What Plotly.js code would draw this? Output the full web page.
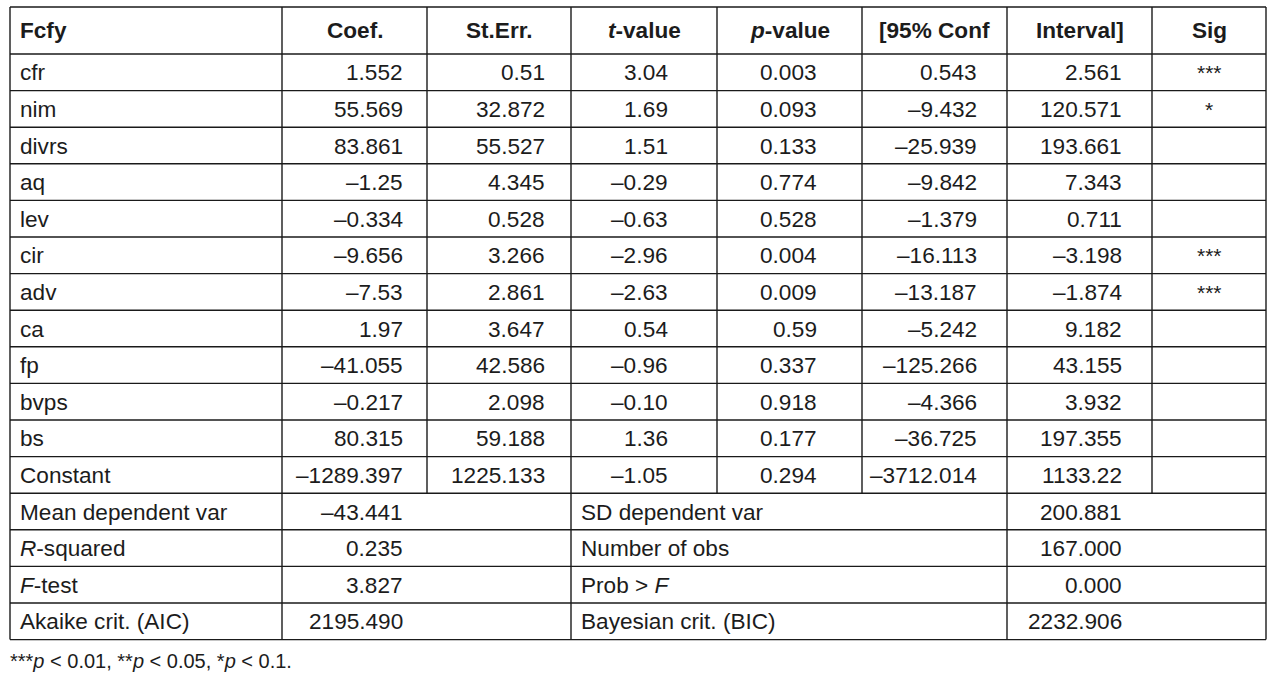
<!DOCTYPE html>
<html>
<head>
<meta charset="utf-8">
<script src="https://cdn.plot.ly/plotly-3.0.1.min.js"></script>
<style>html,body{margin:0;padding:0;background:#fff;}#chart{width:1280px;height:682px;}</style>
</head>
<body>
<div id="chart"></div>
<script>
// ---- data ----
const headers = ['Fcfy', 'Coef.', 'St.Err.', '<i>t</i>-value', '<i>p</i>-value', '[95% Conf', 'Interval]', 'Sig'];
const variables = ['cfr', 'nim', 'divrs', 'aq', 'lev', 'cir', 'adv', 'ca', 'fp', 'bvps', 'bs', 'Constant'];
const coef = [1.552, 55.569, 83.861, -1.25, -0.334, -9.656, -7.53, 1.97, -41.055, -0.217, 80.315, -1289.397];
const stErr = [0.51, 32.872, 55.527, 4.345, 0.528, 3.266, 2.861, 3.647, 42.586, 2.098, 59.188, 1225.133];
const tValue = [3.04, 1.69, 1.51, -0.29, -0.63, -2.96, -2.63, 0.54, -0.96, -0.10, 1.36, -1.05];
const pValue = [0.003, 0.093, 0.133, 0.774, 0.528, 0.004, 0.009, 0.59, 0.337, 0.918, 0.177, 0.294];
const confLow = [0.543, -9.432, -25.939, -9.842, -1.379, -16.113, -13.187, -5.242, -125.266, -4.366, -36.725, -3712.014];
const confHigh = [2.561, 120.571, 193.661, 7.343, 0.711, -3.198, -1.874, 9.182, 43.155, 3.932, 197.355, 1133.22];
const sig = ['***', '*', '', '', '', '***', '***', '', '', '', '', ''];

const statLabelsLeft = ['Mean dependent var', '<i>R</i>-squared', '<i>F</i>-test', 'Akaike crit. (AIC)'];
const statValuesLeft = [-43.441, 0.235, 3.827, 2195.490];
const statLabelsRight = ['SD dependent var', 'Number of obs', 'Prob &gt; <i>F</i>', 'Bayesian crit. (BIC)'];
const statValuesRight = [200.881, 167.000, 0.000, 2232.906];

const footnote = '***<i>p</i> &lt; 0.01, **<i>p</i> &lt; 0.05, *<i>p</i> &lt; 0.1.';

// ---- layout geometry ----
const colX = [10, 282, 427, 571, 717, 862, 1007, 1152, 1266];
const rightPad = [0, 24, 26, 49, 45, 30, 30, 0];
const tableTop = 7, headerBottom = 54, rowH = 36.6;
const nData = variables.length, nStats = statLabelsLeft.length;
const dataBottom = headerBottom + nData * rowH;
const tableBottom = dataBottom + nStats * rowH;

const FONT = '"Liberation Sans", Arial, Helvetica, sans-serif';
const TXT = '#1c1c1c';
const LINE = '#1a1a1a';
const fs = 22.6;

function fmt(v) { return String(v).replace('-', '\u2013'); }
function fmtFixed(v, d) { return v.toFixed(d).replace('-', '\u2013'); }

const shapes = [];
function hline(y, x0, x1) { shapes.push({type: 'line', xref: 'x', yref: 'y', x0: x0, x1: x1, y0: y, y1: y, line: {color: LINE, width: 1.4}}); }
function vline(x, y0, y1) { shapes.push({type: 'line', xref: 'x', yref: 'y', x0: x, x1: x, y0: y0, y1: y1, line: {color: LINE, width: 1.4}}); }

hline(tableTop, colX[0], colX[8]);
hline(headerBottom, colX[0], colX[8]);
for (let i = 1; i <= nData + nStats; i++) hline(headerBottom + i * rowH, colX[0], colX[8]);
vline(colX[0], tableTop, tableBottom);
vline(colX[8], tableTop, tableBottom);
for (let c = 1; c < 8; c++) vline(colX[c], tableTop, dataBottom);
[1, 3, 6].forEach(c => vline(colX[c], dataBottom, tableBottom));

const ann = [];
function txt(text, x, y, anchor, opts) {
  ann.push(Object.assign({text: text, x: x, y: y, xref: 'x', yref: 'y', xanchor: anchor, yanchor: 'middle',
    showarrow: false, borderpad: 0, borderwidth: 0, font: {family: FONT, size: fs, color: TXT}}, opts || {}));
}

const labelPad = 10;

// header
const hy = (tableTop + headerBottom) / 2;
headers.forEach((h, c) => {
  const label = '<b>' + h + '</b>';
  if (c === 0) txt(label, colX[0] + labelPad, hy, 'left');
  else txt(label, (colX[c] + colX[c + 1]) / 2, hy, 'center');
});

// data rows
const cols = [
  coef.map(fmt), stErr.map(fmt), tValue.map(v => fmtFixed(v, 2)), pValue.map(fmt),
  confLow.map(fmt), confHigh.map(fmt)
];
variables.forEach((v, r) => {
  const y = headerBottom + (r + 0.5) * rowH + 0.5;
  txt(v, colX[0] + labelPad, y, 'left');
  cols.forEach((arr, k) => {
    const c = k + 1;
    txt(arr[r], colX[c + 1] - rightPad[c], y, 'right');
  });
  if (sig[r]) txt(sig[r], (colX[7] + colX[8]) / 2, y, 'center', {font: {family: FONT, size: 21, color: TXT}});
});

// stats rows
statLabelsLeft.forEach((lab, r) => {
  const y = dataBottom + (r + 0.5) * rowH + 0.5;
  txt(lab, colX[0] + labelPad, y, 'left');
  txt(fmtFixed(statValuesLeft[r], 3), colX[2] - rightPad[1], y, 'right');
  txt(statLabelsRight[r], colX[3] + labelPad, y, 'left');
  txt(fmtFixed(statValuesRight[r], 3), colX[7] - rightPad[6], y, 'right');
});

// footnote
txt(footnote, 10, tableBottom + 21, 'left', {font: {family: FONT, size: 20, color: TXT}});

const layout = {
  width: 1280, height: 682,
  margin: {l: 0, r: 0, t: 0, b: 0, pad: 0},
  paper_bgcolor: '#ffffff', plot_bgcolor: '#ffffff',
  xaxis: {range: [0, 1280], visible: false, fixedrange: true},
  yaxis: {range: [682, 0], visible: false, fixedrange: true},
  shapes: shapes,
  annotations: ann,
  showlegend: false
};

Plotly.newPlot('chart', [], layout, {staticPlot: true, displayModeBar: false});
</script>
</body>
</html>
